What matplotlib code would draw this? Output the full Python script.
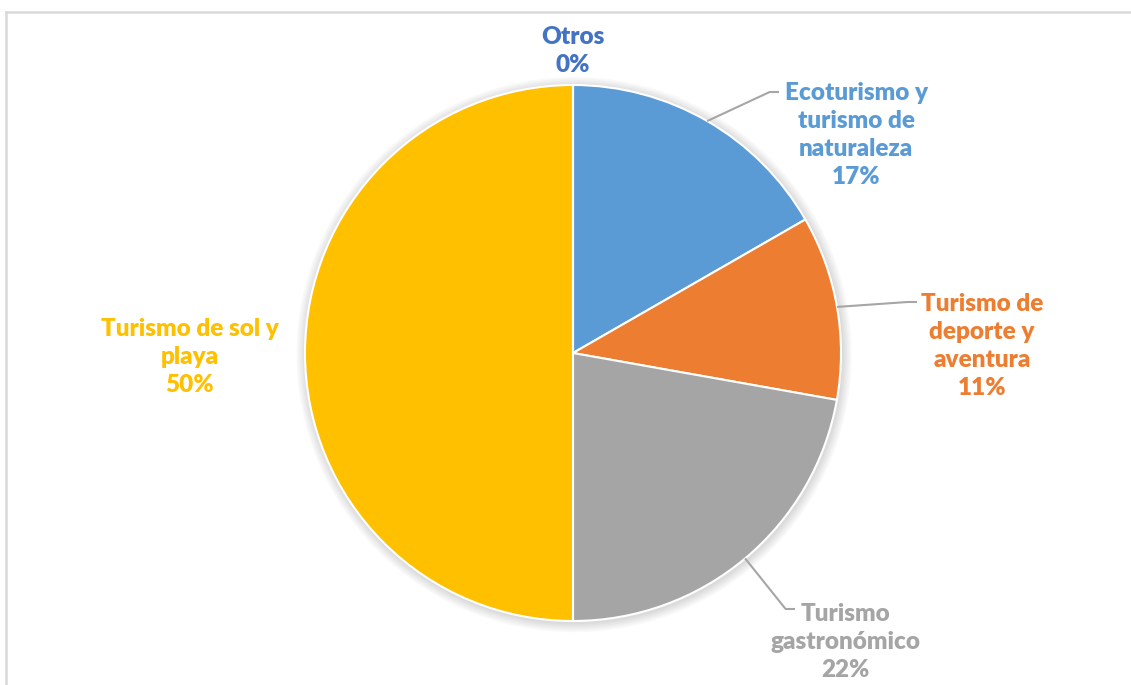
import numpy as np
import matplotlib
matplotlib.use("Agg")
import matplotlib.pyplot as plt
from matplotlib.lines import Line2D
from matplotlib.patches import Circle

# ================================
# DATA
# ================================
categories = ["Ecoturismo y\nturismo de\nnaturaleza", "Turismo de\ndeporte y\naventura",
              "Turismo\ngastronómico", "Turismo de sol y\nplaya", "Otros"]
values = [16.7, 11.1, 22.2, 50.0, 0.0]
pct_labels = ["17%", "11%", "22%", "50%", "0%"]
colors = ["#5B9BD5", "#ED7D31", "#A5A5A5", "#FFC000", "#4472C4"]

# label centres (pixels) and leader-line end (pixels, None = no line)
label_pos = [(856, 135), (982, 346), (845, 642), (190, 357), (573, 51)]
leader_end = [(779, 92), (917, 302), (795, 609), None, None]

W, H = 1131, 685
CX, CY, R = 573, 353, 268

def px(x, y):
    return (x - CX) / R, (CY - y) / R

plt.rcParams["font.family"] = ["Lato", "DejaVu Sans"]

fig = plt.figure(figsize=(W / 100, H / 100), dpi=100)
ax = fig.add_axes([0, 0, 1, 1])

# soft shadow behind pie
for i in range(6):
    ax.add_patch(Circle((0.004, -0.006), 1 + 0.006 * (i + 1), color="black",
                        alpha=0.025, lw=0, zorder=0))

wedges, _ = ax.pie(values, colors=colors, startangle=90, counterclock=False,
                   radius=1, center=(0, 0), frame=True,
                   wedgeprops=dict(edgecolor="white", linewidth=1.5))
ax.set_xlim(-CX / R, (W - CX) / R)
ax.set_ylim(-(H - CY) / R, CY / R)
ax.set_aspect("auto")
ax.axis("off")

for w, cat, pct, col, pos, end in zip(wedges, categories, pct_labels, colors, label_pos, leader_end):
    lx, ly = px(*pos)
    ax.text(lx, ly, cat + "\n" + pct, color=col, fontsize=17.5, fontweight="heavy",
            ha="center", va="center", linespacing=1.33)
    if end is not None:
        mid = np.deg2rad((w.theta1 + w.theta2) / 2)
        sx, sy = np.cos(mid), np.sin(mid)
        ex, ey = px(*end)
        ax.plot([sx, ex - 0.035, ex], [sy, ey, ey], color="#A6A6A6", lw=1.5,
                solid_capstyle="butt", zorder=5)

# chart border (top and left visible)
fig.add_artist(Line2D([6 / W, 1], [1 - 12 / H, 1 - 12 / H], color="#D9D9D9", lw=1.8))
fig.add_artist(Line2D([6 / W, 6 / W], [0, 1 - 12 / H], color="#D9D9D9", lw=1.8))

fig.savefig("out.png", dpi=100)
